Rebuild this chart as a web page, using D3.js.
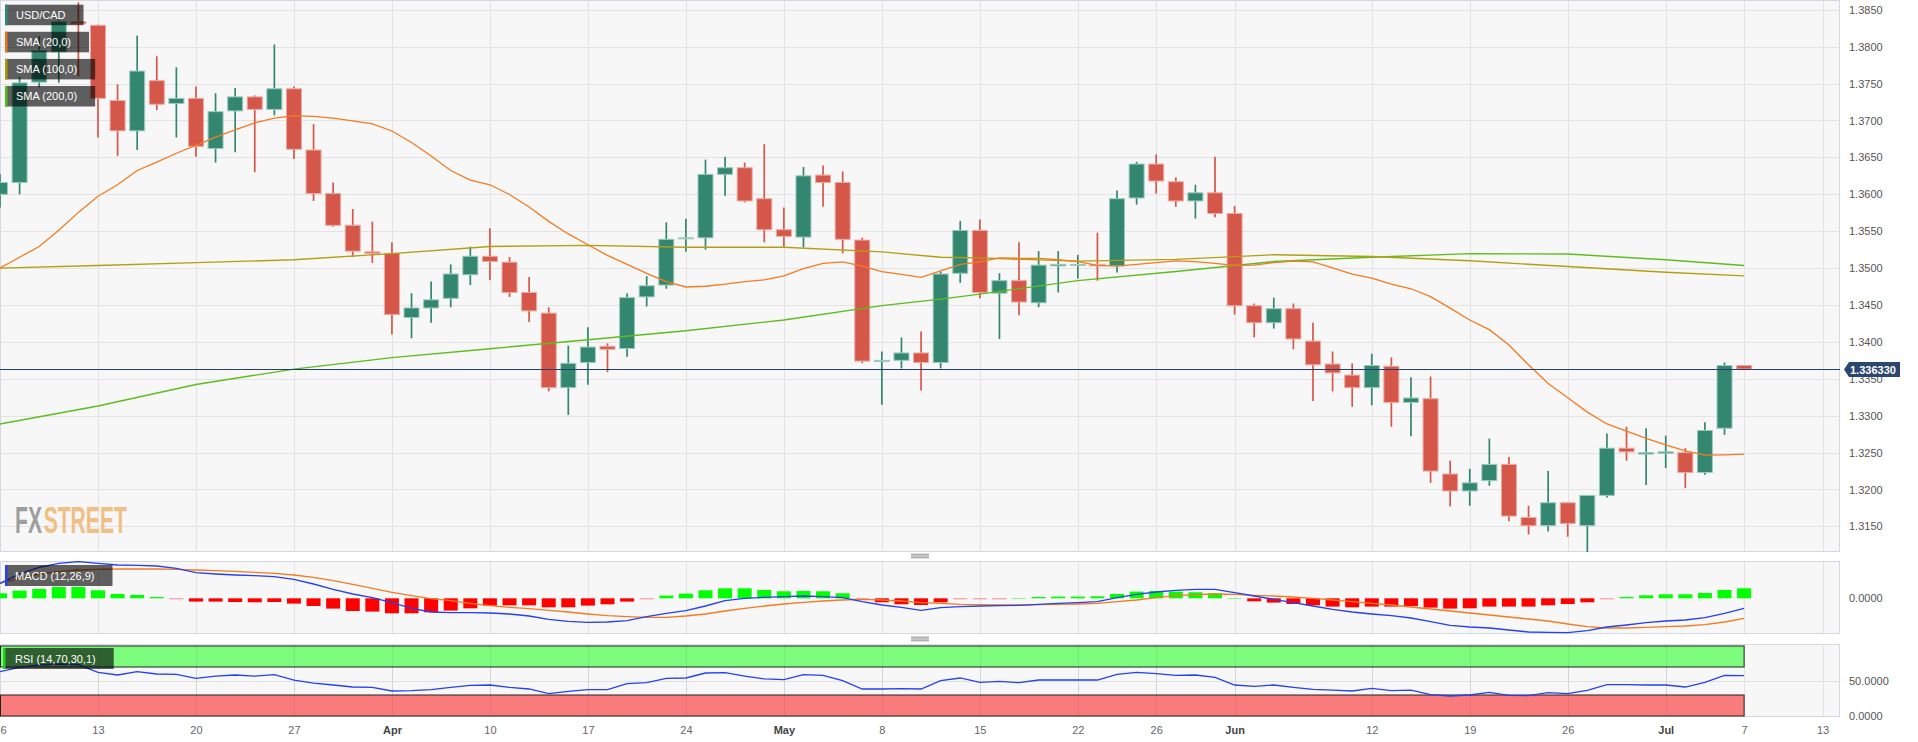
<!DOCTYPE html>
<html><head><meta charset="utf-8">
<script src="https://cdn.jsdelivr.net/npm/d3@7/dist/d3.min.js"></script>
<style>
html,body{margin:0;padding:0;background:#fff;overflow:hidden}
svg{display:block}
text{font-family:"Liberation Sans",Arial,sans-serif}
</style></head><body>
<svg id="chart" width="1918" height="742"></svg>
<script>
// ---------- DATA ----------
const opens = [1.3600,1.3616,1.3752,1.3793,1.3834,1.3829,1.3727,1.3686,1.3754,1.3723,
1.3730,1.3662,1.3713,1.3732,1.3715,1.3743,1.3660,1.3601,1.3558,1.3522,
1.3520,1.3433,1.3446,1.3459,1.3491,1.3516,1.3508,1.3467,1.3439,1.3338,
1.3372,1.3394,1.3391,1.3461,1.3477,1.3540,1.3541,1.3627,1.3636,1.3594,
1.3552,1.3542,1.3626,1.3616,1.3538,1.3374,1.3375,1.3385,1.3372,1.3493,
1.3551,1.3466,1.3483,1.3453,1.3503,1.3504,1.3505,1.3503,1.3595,1.3641,
1.3617,1.3591,1.3602,1.3574,1.3449,1.3426,1.3445,1.3401,1.3370,1.3355,
1.3338,1.3367,1.3318,1.3323,1.3221,1.3198,1.3212,1.3234,1.3162,1.3151,
1.3182,1.3151,1.3192,1.3256,1.3248,1.3249,1.3250,1.3223,1.3283,1.3368];
const highs = [1.3627,1.3759,1.3814,1.3836,1.3860,1.3830,1.3749,1.3815,1.3787,1.3772,
1.3746,1.3737,1.3744,1.3734,1.3803,1.3746,1.3695,1.3616,1.3580,1.3563,
1.3535,1.3466,1.3482,1.3505,1.3529,1.3554,1.3515,1.3488,1.3447,1.3395,
1.3420,1.3398,1.3466,1.3489,1.3562,1.3567,1.3647,1.3651,1.3643,1.3668,
1.3582,1.3637,1.3639,1.3631,1.3541,1.3387,1.3406,1.3414,1.3495,1.3564,
1.3566,1.3493,1.3535,1.3523,1.3523,1.3518,1.3548,1.3605,1.3644,1.3654,
1.3623,1.3613,1.3651,1.3584,1.3452,1.3460,1.3452,1.3426,1.3387,1.3371,
1.3384,1.3379,1.3352,1.3353,1.3239,1.3228,1.3269,1.3244,1.3178,1.3225,
1.3182,1.3192,1.3276,1.3285,1.3283,1.3273,1.3256,1.3291,1.3372,1.3368];
const lows = [1.3582,1.3600,1.3745,1.3751,1.3760,1.3677,1.3652,1.3660,1.3714,1.3677,
1.3651,1.3643,1.3657,1.3630,1.3707,1.3648,1.3591,1.3556,1.3515,1.3507,
1.3410,1.3405,1.3426,1.3447,1.3477,1.3484,1.3461,1.3427,1.3333,1.3301,
1.3342,1.3359,1.3380,1.3448,1.3472,1.3522,1.3525,1.3598,1.3589,1.3535,
1.3529,1.3528,1.3583,1.3520,1.3371,1.3315,1.3364,1.3334,1.3364,1.3480,
1.3459,1.3404,1.3436,1.3447,1.3467,1.3486,1.3483,1.3494,1.3586,1.3601,
1.3583,1.3567,1.3569,1.3437,1.3406,1.3418,1.3390,1.3320,1.3333,1.3312,
1.3314,1.3285,1.3272,1.3209,1.3177,1.3178,1.3205,1.3157,1.3139,1.3143,
1.3136,1.3115,1.3189,1.3239,1.3206,1.3229,1.3202,1.3220,1.3274,1.3362];
const closes = [1.3616,1.3751,1.3795,1.3834,1.3831,1.3730,1.3686,1.3767,1.3722,1.3730,
1.3665,1.3712,1.3732,1.3715,1.3743,1.3661,1.3601,1.3558,1.3523,1.3520,
1.3437,1.3446,1.3457,1.3492,1.3516,1.3509,1.3467,1.3442,1.3338,1.3371,
1.3393,1.3390,1.3460,1.3476,1.3539,1.3541,1.3627,1.3636,1.3591,1.3552,
1.3543,1.3625,1.3616,1.3539,1.3374,1.3375,1.3385,1.3372,1.3492,1.3551,
1.3467,1.3483,1.3454,1.3504,1.3505,1.3505,1.3503,1.3594,1.3641,1.3618,
1.3591,1.3602,1.3574,1.3449,1.3426,1.3445,1.3404,1.3369,1.3358,1.3338,
1.3368,1.3318,1.3324,1.3225,1.3198,1.3209,1.3234,1.3164,1.3151,1.3182,
1.3154,1.3192,1.3256,1.3251,1.3250,1.3251,1.3223,1.3280,1.3368,1.33633];

const sma20 = [1.35002,1.35147,1.35293,1.35512,1.35755,1.35973,1.36129,1.36323,1.36435,1.36556,
1.36663,1.36775,1.36872,1.36969,1.37033,1.37067,1.37057,1.37033,1.36994,1.36955,
1.36858,1.36702,1.36518,1.36323,1.36192,1.36129,1.35998,1.35828,1.35633,1.35463,
1.35317,1.35172,1.35050,1.34929,1.34817,1.34744,1.34754,1.34783,1.34817,1.34841,
1.34895,1.34992,1.35065,1.35084,1.35026,1.34953,1.34914,1.34875,1.34963,1.35050,
1.35084,1.35138,1.35133,1.35133,1.35113,1.35089,1.35036,1.35026,1.35050,1.35074,
1.35099,1.35089,1.35065,1.35036,1.35040,1.35074,1.35094,1.35084,1.35002,1.34919,
1.34865,1.34783,1.34720,1.34613,1.34457,1.34297,1.34166,1.33957,1.33690,1.33437,
1.33243,1.33049,1.32888,1.32791,1.32694,1.32606,1.32523,1.32465,1.32470,1.32480];

const smaLongIdx = [0,5,10,15,20,25,30,35,40,45,48,50,55,60,65,70,75,80,85,89];
const sma100 = [1.35000,1.35035,1.35074,1.35113,1.35196,1.35293,1.35308,1.35283,1.35283,1.35220,
1.35147,1.35138,1.35094,1.35118,1.35181,1.35157,1.35099,1.35021,1.34943,1.34895];
const sma200 = [1.32888,1.33131,1.33423,1.33631,1.33787,1.33908,1.34030,1.34151,1.34297,1.34491,
1.34579,1.34647,1.34831,1.34953,1.35089,1.35147,1.35196,1.35191,1.35113,1.35035];

const macdLine = [0.00150,0.00243,0.00310,0.00350,0.00367,0.00350,0.00333,0.00330,0.00323,0.00300,
0.00257,0.00243,0.00233,0.00227,0.00217,0.00190,0.00143,0.00090,0.00043,0.00007,
-0.00043,-0.00100,-0.00137,-0.00143,-0.00143,-0.00147,-0.00157,-0.00177,-0.00210,-0.00230,
-0.00240,-0.00237,-0.00223,-0.00183,-0.00150,-0.00123,-0.00077,-0.00023,0.00000,0.00010,
0.00017,0.00023,0.00017,0.00007,-0.00033,-0.00067,-0.00090,-0.00120,-0.00093,-0.00083,
-0.00077,-0.00073,-0.00070,-0.00060,-0.00050,-0.00043,-0.00033,0.00007,0.00040,0.00063,
0.00080,0.00090,0.00090,0.00057,0.00023,-0.00010,-0.00043,-0.00077,-0.00110,-0.00137,
-0.00157,-0.00173,-0.00197,-0.00233,-0.00270,-0.00287,-0.00297,-0.00317,-0.00337,-0.00340,
-0.00343,-0.00323,-0.00287,-0.00267,-0.00243,-0.00227,-0.00217,-0.00193,-0.00150,-0.00100];
const signalLine = [0.00150,0.00200,0.00243,0.00267,0.00283,0.00290,0.00293,0.00293,0.00293,0.00290,
0.00283,0.00277,0.00270,0.00260,0.00250,0.00233,0.00210,0.00177,0.00140,0.00100,
0.00060,0.00027,-0.00003,-0.00023,-0.00050,-0.00073,-0.00090,-0.00103,-0.00120,-0.00137,
-0.00157,-0.00173,-0.00183,-0.00190,-0.00190,-0.00177,-0.00157,-0.00127,-0.00100,-0.00077,
-0.00057,-0.00040,-0.00027,-0.00017,-0.00010,-0.00017,-0.00027,-0.00043,-0.00050,-0.00060,
-0.00063,-0.00067,-0.00067,-0.00063,-0.00060,-0.00057,-0.00050,-0.00033,-0.00017,0.00007,
0.00027,0.00037,0.00043,0.00040,0.00030,0.00023,0.00013,0.00000,-0.00017,-0.00033,
-0.00050,-0.00067,-0.00087,-0.00107,-0.00127,-0.00147,-0.00167,-0.00187,-0.00207,-0.00227,
-0.00257,-0.00283,-0.00297,-0.00297,-0.00290,-0.00283,-0.00277,-0.00263,-0.00237,-0.00200];
const macdHist = [0.00050,0.00077,0.00093,0.00113,0.00113,0.00080,0.00043,0.00033,0.00013,-0.00003,
-0.00033,-0.00033,-0.00037,-0.00040,-0.00037,-0.00053,-0.00077,-0.00103,-0.00127,-0.00133,
-0.00150,-0.00150,-0.00140,-0.00123,-0.00100,-0.00073,-0.00070,-0.00070,-0.00090,-0.00090,
-0.00073,-0.00060,-0.00033,-0.00007,0.00027,0.00047,0.00080,0.00100,0.00100,0.00083,
0.00070,0.00073,0.00070,0.00050,-0.00007,-0.00040,-0.00060,-0.00067,-0.00040,-0.00007,
-0.00005,-0.00003,0.00003,0.00013,0.00017,0.00017,0.00020,0.00043,0.00067,0.00073,
0.00067,0.00060,0.00050,0.00003,-0.00030,-0.00043,-0.00057,-0.00070,-0.00083,-0.00090,
-0.00083,-0.00083,-0.00077,-0.00093,-0.00103,-0.00100,-0.00083,-0.00083,-0.00083,-0.00070,
-0.00057,-0.00040,-0.00007,0.00013,0.00030,0.00040,0.00040,0.00053,0.00083,0.00100];

const rsi = [63.3,69.5,72.9,74.3,73.3,62.4,58.6,63.3,60.0,59.5,
53.8,57.1,58.6,57.1,59.0,51.4,47.1,44.3,41.4,41.0,
35.7,36.2,37.6,41.0,43.8,44.3,41.0,38.6,31.9,35.2,
37.6,37.6,46.2,47.6,53.8,54.3,61.4,61.9,57.1,52.9,
51.9,59.0,58.1,50.5,38.6,38.6,39.0,38.6,50.5,54.3,
48.1,49.5,47.6,51.4,51.4,51.4,51.4,59.5,62.4,60.5,
58.1,58.6,55.2,44.3,42.4,44.3,41.0,38.1,37.1,35.7,
39.5,36.2,37.1,30.5,28.6,30.0,33.8,29.5,29.0,33.3,
31.9,36.7,44.8,44.8,44.3,44.3,41.4,48.1,58.1,57.6];

const tickIdx = [0,5,10,15,20,25,30,35,40,45,50,55,59,63,70,75,80,85,89,93];
const tickLabels = ["6","13","20","27","Apr","10","17","24","May","8","15","22","26","Jun","12","19","26","Jul","7","13"];
const monthLabels = ["Apr","May","Jun","Jul"];
const priceTicks = [1.3150,1.3200,1.3250,1.3300,1.3350,1.3400,1.3450,1.3500,1.3550,1.3600,1.3650,1.3700,1.3750,1.3800,1.3850];
const lastPrice = 1.33633;
const lastPriceLabel = "1.336330";
const macdTicks = [0];
const rsiTicks = [0, 50];
const legendMain = [["USD/CAD","#2f8a73"],["SMA (20,0)","#f0731c"],["SMA (100,0)","#a99a00"],["SMA (200,0)","#4fbf14"]];

// ---------- LAYOUT ----------
const svg = d3.select("#chart");
const PR = 1840;
const P = {main:{t:0,b:552}, macd:{t:561,b:634}, rsi:{t:644,b:717}};
const x = d3.scaleLinear().domain([0,93]).range([0,1822.5]);
const y = d3.scaleLinear().domain([1.385,1.315]).range([9.8,526.4]);
const yM = d3.scaleLinear().domain([-0.0036,0.0037]).range([634.3,561.3]);
const yR = d3.scaleLinear().domain([0,100]).range([716,646]);

const GREEN = "#33866f", RED = "#d4574a";
const ORANGE = "#f47b20", OLIVE = "#b3a010", LGREEN = "#5ebd1e", BLUE = "#2541f0";

svg.append("rect").attr("width",1918).attr("height",742).attr("fill","#fff");
const defs = svg.append("defs");
Object.entries(P).forEach(([k,p])=>{
  defs.append("clipPath").attr("id","clip-"+k).append("rect")
    .attr("x",0).attr("y",p.t).attr("width",PR).attr("height",p.b-p.t);
  svg.append("rect").attr("x",0.5).attr("y",p.t+0.5).attr("width",PR-1).attr("height",p.b-p.t-1)
    .attr("fill","#f7f7f7").attr("stroke","#d3d8e3");
});

// gridlines
const grid = svg.append("g").attr("stroke","#e3e3e3").attr("stroke-width",1);
priceTicks.forEach(v=>grid.append("line").attr("x1",1).attr("x2",PR-1).attr("y1",Math.round(y(v))+0.5).attr("y2",Math.round(y(v))+0.5));
Object.values(P).forEach(p=>{
  tickIdx.forEach(i=>{ if(i>0) grid.append("line").attr("x1",Math.round(x(i))+0.5).attr("x2",Math.round(x(i))+0.5).attr("y1",p.t+1).attr("y2",p.b-1); });
});

// ---------- MAIN PANEL ----------
const gm = svg.append("g").attr("clip-path","url(#clip-main)");
// watermark: horizontally condensed via a scale transform so the two parts abut
const wm = gm.append("g").attr("transform","translate(15,533) scale(0.57,1)");
const wFX = wm.append("text").attr("x",0).attr("y",0).attr("font-size",37).attr("font-weight","bold")
  .attr("fill","#8d8d8d").attr("fill-opacity",0.85).text("FX");
const fxW = wFX.node().getComputedTextLength();
wm.append("text").attr("x",fxW+3).attr("y",0).attr("font-size",37).attr("font-weight","bold")
  .attr("fill","#f1be85").text("STREET");

const candles = opens.map((o,i)=>({i,o,h:highs[i],l:lows[i],c:closes[i]}));
const cg = gm.append("g");
candles.forEach(d=>{
  const up = d.c >= d.o, col = up?GREEN:RED, cx = x(d.i);
  cg.append("line").attr("x1",cx).attr("x2",cx).attr("y1",y(d.h)).attr("y2",y(d.l))
    .attr("stroke",col).attr("stroke-width",1.7);
  const y0 = Math.min(y(d.o),y(d.c)), hh = Math.max(Math.abs(y(d.o)-y(d.c)),1);
  cg.append("rect").attr("x",cx-7.5).attr("width",15).attr("y",y0).attr("height",hh)
    .attr("fill",col).attr("stroke",up?"#9ccbbd":"#eeaaa2").attr("stroke-width",1);
});

const line = d3.line().x((d,i)=>x(i)).y(d=>y(d));
gm.append("path").datum(sma200.map((v,k)=>[smaLongIdx[k],v])).attr("fill","none").attr("stroke",LGREEN).attr("stroke-width",1.4)
  .attr("d",d3.line().x(d=>x(d[0])).y(d=>y(d[1])));
gm.append("path").datum(sma100.map((v,k)=>[smaLongIdx[k],v])).attr("fill","none").attr("stroke",OLIVE).attr("stroke-width",1.4)
  .attr("d",d3.line().x(d=>x(d[0])).y(d=>y(d[1])));
gm.append("path").datum(sma20).attr("fill","none").attr("stroke",ORANGE).attr("stroke-width",1.3).attr("d",line);

// last price line
gm.append("line").attr("x1",0).attr("x2",PR).attr("y1",Math.round(y(lastPrice))+0.5).attr("y2",Math.round(y(lastPrice))+0.5)
  .attr("stroke","#24406a").attr("stroke-width",1);

// right axis labels
const axR = svg.append("g").attr("transform",`translate(${PR+3},0)`)
  .call(d3.axisRight(y).tickValues(priceTicks).tickFormat(d3.format(".4f")).tickSize(0).tickPadding(6));
axR.select(".domain").remove();
axR.selectAll("text").attr("font-size",11).attr("fill","#555").attr("font-family","Liberation Sans, Arial, sans-serif");

// price label
const yp = Math.round(y(lastPrice))+0.5;
svg.append("path").attr("d",`M${PR+4},${yp} L${PR+9},${yp-7.5} L${PR+60},${yp-7.5} L${PR+60},${yp+7.5} L${PR+9},${yp+7.5} Z`)
  .attr("fill","#2b4770");
svg.append("text").attr("x",PR+10).attr("y",yp+4).attr("font-size",11).attr("font-weight","bold").attr("fill","#fff").text(lastPriceLabel);

// ---------- MACD ----------
const gmacd = svg.append("g").attr("clip-path","url(#clip-macd)");
macdHist.forEach((v,i)=>{
  const y0 = Math.min(yM(v),yM(0)), hh = Math.max(Math.abs(yM(v)-yM(0)),1);
  gmacd.append("rect").attr("x",x(i)-7).attr("width",14).attr("y",y0).attr("height",hh)
    .attr("fill",v>=0?"#00ff00":"#ff0000").attr("opacity",Math.abs(yM(v)-yM(0))<1.2?0.45:1);
});
const lm = d3.line().x((d,i)=>x(i)).y(d=>yM(d));
gmacd.append("path").datum(signalLine).attr("fill","none").attr("stroke",ORANGE).attr("stroke-width",1.3).attr("d",lm);
gmacd.append("path").datum(macdLine).attr("fill","none").attr("stroke",BLUE).attr("stroke-width",1.3).attr("d",lm);
const axM = svg.append("g").attr("transform",`translate(${PR+3},0)`)
  .call(d3.axisRight(yM).tickValues(macdTicks).tickFormat(d3.format(".4f")).tickSize(0).tickPadding(6));
axM.select(".domain").remove();
axM.selectAll("text").attr("font-size",11).attr("fill","#555").attr("font-family","Liberation Sans, Arial, sans-serif");

// ---------- RSI ----------
const grsi = svg.append("g").attr("clip-path","url(#clip-rsi)");
grsi.append("rect").attr("x",0.5).attr("y",yR(100)).attr("width",x(89)-0.5).attr("height",yR(70)-yR(100))
  .attr("fill","#7dfb7d").attr("stroke","#222").attr("stroke-width",1);
grsi.append("rect").attr("x",0.5).attr("y",yR(30)).attr("width",x(89)-0.5).attr("height",yR(0)-yR(30))
  .attr("fill","#fa7b7b").attr("stroke","#222").attr("stroke-width",1);
grsi.append("line").attr("x1",1).attr("x2",PR-1).attr("y1",Math.round(yR(50))+0.5).attr("y2",Math.round(yR(50))+0.5).attr("stroke","#e0e0e0");
tickIdx.forEach(i=>{ if(i>0 && i<89) grsi.append("line").attr("x1",Math.round(x(i))+0.5).attr("x2",Math.round(x(i))+0.5)
  .attr("y1",P.rsi.t).attr("y2",P.rsi.b).attr("stroke","#000").attr("stroke-opacity",0.06); });
grsi.append("path").datum(rsi).attr("fill","none").attr("stroke",BLUE).attr("stroke-width",1.3)
  .attr("d",d3.line().x((d,i)=>x(i)).y(d=>yR(d)));
const axRs = svg.append("g").attr("transform",`translate(${PR+3},0)`)
  .call(d3.axisRight(yR).tickValues(rsiTicks).tickFormat(d3.format(".4f")).tickSize(0).tickPadding(6));
axRs.select(".domain").remove();
axRs.selectAll("text").attr("font-size",11).attr("fill","#555").attr("font-family","Liberation Sans, Arial, sans-serif");

// ---------- X AXIS ----------
const axX = svg.append("g").attr("transform","translate(0,726.2)")
  .call(d3.axisBottom(x).tickValues(tickIdx).tickFormat((d,k)=>tickLabels[k]).tickSize(0).tickPadding(0));
axX.select(".domain").remove();
axX.selectAll("text").attr("font-size",11).attr("font-family","Liberation Sans, Arial, sans-serif")
  .attr("fill",(d,k)=>monthLabels.includes(tickLabels[k])?"#444":"#666")
  .attr("font-weight",(d,k)=>monthLabels.includes(tickLabels[k])?"bold":"normal");
axX.selectAll(".tick").filter(d=>d===0).select("text").attr("x",3);

// ---------- HANDLES ----------
[556,639].forEach(cy=>{
  [-1.8,0,1.8].forEach(o=>svg.append("line").attr("x1",911).attr("x2",929).attr("y1",cy+o).attr("y2",cy+o)
    .attr("stroke","#808080").attr("stroke-width",0.9));
});

// ---------- LEGENDS ----------
function legend(xb, yb, h, label, color, tx){
  const g = svg.append("g");
  const t = g.append("text").attr("x",tx).attr("y",yb+h/2+4).attr("font-size",11).attr("fill","#fff").text(label);
  const w = t.node().getComputedTextLength();
  g.insert("rect","text").attr("x",xb).attr("y",yb).attr("width",(tx-xb)+w+18).attr("height",h).attr("fill","#000").attr("fill-opacity",0.62);
  g.insert("rect","text").attr("x",xb).attr("y",yb).attr("width",2.5).attr("height",h).attr("fill",color);
}
legendMain.forEach((d,k)=>legend(5, 4.7+k*27.1, 20.5, d[0], d[1], 16));
legend(5, 565, 21, "MACD (12,26,9)", BLUE, 15);
legend(3, 648, 21, "RSI (14,70,30,1)", "#1ed21e", 15);
</script>
</body></html>
